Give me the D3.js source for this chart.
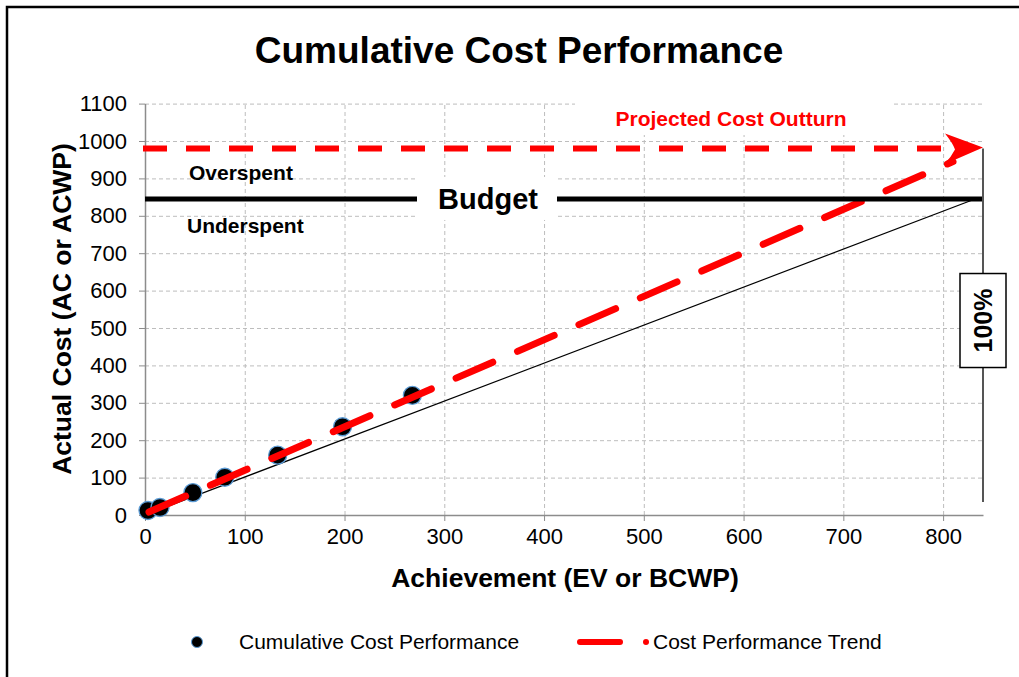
<!DOCTYPE html>
<html>
<head>
<meta charset="utf-8">
<script src="https://cdn.jsdelivr.net/npm/d3@7/dist/d3.min.js"></script>
<style>
  html, body { margin: 0; background: #fff; overflow: hidden; }
  svg { display: block; }
  text { font-family: Arial, "Liberation Sans", sans-serif; }
</style>
</head>
<body>
<script>
// chart values
const achieved = [3, 15, 48, 80, 133, 198, 268];
const actualCost = [12, 20, 60, 101, 160, 236, 320];
const trendX = [4, 840];
const trendY = [8, 980];
const efficiencyX = [0, 832];
const efficiencyY = [0, 845];
const budget = 845;
const projectedOutturn = 980;
const xTicks = [0, 100, 200, 300, 400, 500, 600, 700, 800];
const yTicks = [0, 100, 200, 300, 400, 500, 600, 700, 800, 900, 1000, 1100];

const W = 1019, H = 677;
const plot = { left: 145, right: 983, top: 103.6, bottom: 515 };

const svg = d3.select('body').append('svg')
    .attr('width', W)
    .attr('height', H);

// outer frame (runs off the right/bottom edge in the original)
svg.append('rect')
    .attr('x', 7).attr('y', 7)
    .attr('width', W + 20).attr('height', H + 20)
    .attr('fill', '#fff')
    .attr('stroke', '#000')
    .attr('stroke-width', 2.5);

const x = d3.scaleLinear().domain([0, 840]).range([plot.left, plot.right]);
const y = d3.scaleLinear().domain([0, 1100]).range([plot.bottom, plot.top]);

// gridlines
const gridStyle = g => {
    g.select('.domain').remove();
    g.selectAll('.tick line')
        .attr('stroke', '#bdbdbd')
        .attr('stroke-width', 1)
        .attr('stroke-dasharray', '4,3');
};
svg.append('g')
    .attr('transform', `translate(0,${plot.bottom})`)
    .call(d3.axisBottom(x).tickValues(xTicks.slice(1)).tickSize(-(plot.bottom - plot.top)).tickFormat(''))
    .call(gridStyle);
svg.append('g')
    .attr('transform', `translate(${plot.left},0)`)
    .call(d3.axisLeft(y).tickValues(yTicks.slice(1)).tickSize(-(plot.right - plot.left)).tickFormat(''))
    .call(gridStyle);

// axes
const axisStyle = g => {
    g.select('.domain').attr('stroke', '#8c8c8c').attr('stroke-width', 1.5);
    g.selectAll('.tick line').attr('stroke', '#8c8c8c').attr('stroke-width', 1);
    g.selectAll('.tick text')
        .attr('fill', '#000')
        .style('font-size', '22px')
        .style('font-family', 'Arial, "Liberation Sans", sans-serif');
};
svg.append('g')
    .attr('transform', `translate(0,${plot.bottom})`)
    .call(d3.axisBottom(x).tickValues(xTicks).tickFormat(d3.format('d'))
        .tickSize(6).tickSizeOuter(0).tickPadding(7))
    .call(axisStyle);
svg.append('g')
    .attr('transform', `translate(${plot.left},0)`)
    .call(d3.axisLeft(y).tickValues(yTicks).tickFormat(d3.format('d'))
        .tickSize(6).tickSizeOuter(0).tickPadding(12))
    .call(axisStyle);

// 100% line (AC = EV)
svg.append('line')
    .attr('x1', x(efficiencyX[0])).attr('y1', y(efficiencyY[0]))
    .attr('x2', x(efficiencyX[1])).attr('y2', y(efficiencyY[1]))
    .attr('stroke', '#000')
    .attr('stroke-width', 1.2);

// vertical completion line at 100%
svg.append('line')
    .attr('x1', x(840)).attr('y1', y(projectedOutturn))
    .attr('x2', x(840)).attr('y2', y(35))
    .attr('stroke', '#555')
    .attr('stroke-width', 2);

// cumulative points
svg.append('g').selectAll('circle')
    .data(achieved)
    .enter().append('circle')
    .attr('cx', d => x(d))
    .attr('cy', (d, i) => y(actualCost[i]))
    .attr('r', 9)
    .attr('fill', '#000')
    .attr('stroke', '#5b9bd5')
    .attr('stroke-width', 1.3);

// trend line, stopped short of the arrow head
const tx0 = x(trendX[0]), ty0 = y(trendY[0]);
const tx1 = x(trendX[1]), ty1 = y(trendY[1]);
const cut = (tx1 - 30 - tx0) / (tx1 - tx0);
svg.append('line')
    .attr('x1', tx0).attr('y1', ty0)
    .attr('x2', tx0 + (tx1 - tx0) * cut).attr('y2', ty0 + (ty1 - ty0) * cut)
    .attr('stroke', '#ff0000')
    .attr('stroke-width', 7)
    .attr('stroke-linecap', 'round')
    .attr('stroke-dasharray', '40,27');

// projected outturn line
svg.append('line')
    .attr('x1', x(0) - 2).attr('y1', y(projectedOutturn))
    .attr('x2', x(840) - 30).attr('y2', y(projectedOutturn))
    .attr('stroke', '#ff0000')
    .attr('stroke-width', 6)
    .attr('stroke-dasharray', '24,19');

// arrow head at the end
svg.append('path')
    .attr('transform', `translate(${tx1},${ty1 - 1})`)
    .attr('d', 'M0,0 L-38,-14 Q-30,-4 -28,2 Q-32,10 -39,17 Z')
    .attr('fill', '#ff0000');

// budget line
svg.append('line')
    .attr('x1', x(0)).attr('y1', y(budget))
    .attr('x2', x(840) - 1).attr('y2', y(budget))
    .attr('stroke', '#000')
    .attr('stroke-width', 5);

// labels with white backing
svg.append('rect')
    .attr('x', 417).attr('y', y(budget) - 22)
    .attr('width', 140).attr('height', 43)
    .attr('fill', '#fff');
svg.append('text')
    .attr('x', 488).attr('y', y(budget) + 10)
    .attr('text-anchor', 'middle')
    .style('font-size', '29px').style('font-weight', 'bold')
    .text('Budget');

svg.append('rect')
    .attr('x', 575).attr('y', 99)
    .attr('width', 318).attr('height', 36)
    .attr('fill', '#fff');
svg.append('text')
    .attr('x', 731).attr('y', 126)
    .attr('text-anchor', 'middle')
    .attr('fill', '#ff0000')
    .style('font-size', '21px').style('font-weight', 'bold')
    .text('Projected Cost Outturn');

svg.append('text')
    .attr('x', 189).attr('y', 180)
    .style('font-size', '21px').style('font-weight', 'bold')
    .text('Overspent');
svg.append('text')
    .attr('x', 187).attr('y', 233)
    .style('font-size', '21px').style('font-weight', 'bold')
    .text('Underspent');

// 100% box
const boxY = y(520);
svg.append('rect')
    .attr('x', x(840) - 23).attr('y', boxY - 47)
    .attr('width', 46).attr('height', 94)
    .attr('fill', '#fff')
    .attr('stroke', '#000')
    .attr('stroke-width', 1.5);
svg.append('text')
    .attr('transform', `translate(${x(840) + 9},${boxY}) rotate(-90)`)
    .attr('text-anchor', 'middle')
    .style('font-size', '25px').style('font-weight', 'bold')
    .text('100%');

// titles
svg.append('text')
    .attr('x', 519).attr('y', 63)
    .attr('text-anchor', 'middle')
    .style('font-size', '37px').style('font-weight', 'bold')
    .text('Cumulative Cost Performance');

svg.append('text')
    .attr('x', 565).attr('y', 587)
    .attr('text-anchor', 'middle')
    .style('font-size', '26.5px').style('font-weight', 'bold')
    .text('Achievement (EV or BCWP)');

svg.append('text')
    .attr('transform', `translate(71,309) rotate(-90)`)
    .attr('text-anchor', 'middle')
    .style('font-size', '26.5px').style('font-weight', 'bold')
    .text('Actual Cost (AC or ACWP)');

// legend
const legendY = 642;
svg.append('circle')
    .attr('cx', 197).attr('cy', legendY).attr('r', 5.5)
    .attr('fill', '#000').attr('stroke', '#5b9bd5').attr('stroke-width', 1);
svg.append('text')
    .attr('x', 239).attr('y', legendY + 7)
    .style('font-size', '21px')
    .text('Cumulative Cost Performance');
svg.append('line')
    .attr('x1', 580).attr('y1', legendY).attr('x2', 620).attr('y2', legendY)
    .attr('stroke', '#ff0000').attr('stroke-width', 6).attr('stroke-linecap', 'round');
svg.append('circle')
    .attr('cx', 646).attr('cy', legendY).attr('r', 3)
    .attr('fill', '#ff0000');
svg.append('text')
    .attr('x', 653).attr('y', legendY + 7)
    .style('font-size', '21px')
    .text('Cost Performance Trend');
</script>
</body>
</html>
